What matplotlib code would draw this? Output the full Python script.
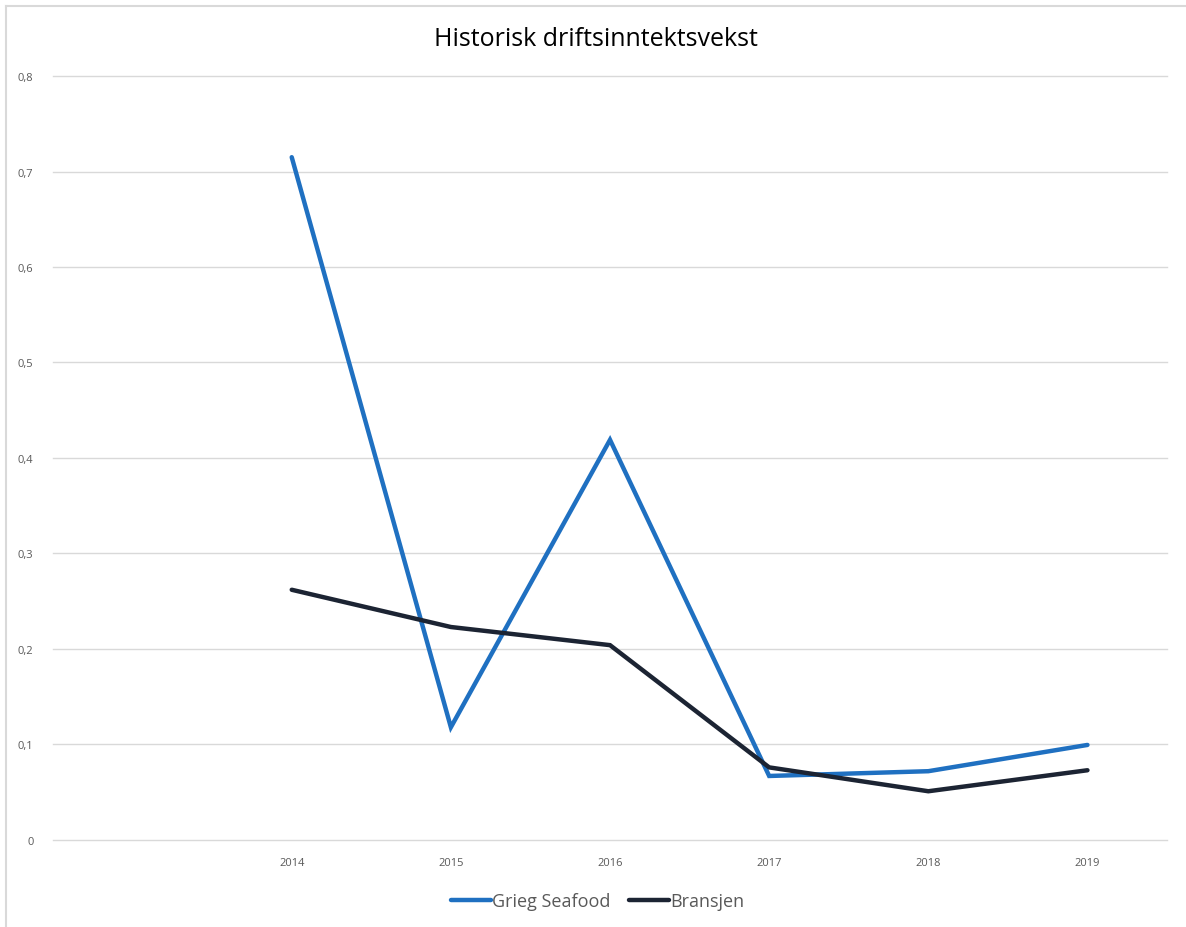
import matplotlib.pyplot as plt
from matplotlib.lines import Line2D

categories = ['', '2014', '2015', '2016', '2017', '2018', '2019']
grieg = [None, 0.715, 0.118, 0.419, 0.067, 0.072, 0.0995]
bransjen = [None, 0.262, 0.223, 0.204, 0.076, 0.051, 0.073]

plt.rcParams['font.family'] = ['Open Sans', 'DejaVu Sans']

fig = plt.figure(figsize=(11.86, 9.28), dpi=100)
ax = fig.add_axes([0.0447, 0.0938, 0.9393, 0.8232])

# chart frame: only top and left edges are visible in the crop
ft, fl = 1 - 7 / 928, 6 / 1186
fig.add_artist(Line2D([fl, 1.0], [ft, ft], transform=fig.transFigure,
                      color='#d9d9d9', linewidth=1.5))
fig.add_artist(Line2D([fl, fl], [0, ft], transform=fig.transFigure,
                      color='#d9d9d9', linewidth=1.5))

xs = list(range(len(categories)))
gx = [x for x, v in zip(xs, grieg) if v is not None]
gy = [v for v in grieg if v is not None]
bx = [x for x, v in zip(xs, bransjen) if v is not None]
by = [v for v in bransjen if v is not None]

ax.plot(gx, gy, color='#1f70c1', linewidth=3.2, label='Grieg Seafood',
        solid_joinstyle='miter', solid_capstyle='round', zorder=3)
ax.plot(bx, by, color='#1c2433', linewidth=3.2, label='Bransjen',
        solid_joinstyle='miter', solid_capstyle='round', zorder=3)

ax.set_xlim(-0.5, 6.5)
ax.set_ylim(0, 0.8)
ax.set_xticks(xs)
ax.set_xticklabels(categories)
yt = [0, 0.1, 0.2, 0.3, 0.4, 0.5, 0.6, 0.7, 0.8]
ax.set_yticks(yt)
ax.set_yticklabels(['0' if v == 0 else f'{v:.1f}'.replace('.', ',') for v in yt])
ax.tick_params(length=0, labelsize=8, labelcolor='#595959')
ax.tick_params(axis='x', pad=12)
ax.tick_params(axis='y', pad=14)
for v in yt:
    ax.axhline(v, color='#d9d9d9', linewidth=1, clip_on=False, zorder=1)
for s in ax.spines.values():
    s.set_visible(False)

fig.text(0.5025, 0.957, 'Historisk driftsinntektsvekst', ha='center', va='center',
         fontsize=18, color='#000000')

fig.legend(loc='center', bbox_to_anchor=(0.504, 0.028), ncol=2, frameon=False,
           fontsize=13, handlelength=2.2, handletextpad=0.1, columnspacing=1.0,
           labelcolor='#595959')

fig.savefig('out.png', dpi=100, facecolor='white')
